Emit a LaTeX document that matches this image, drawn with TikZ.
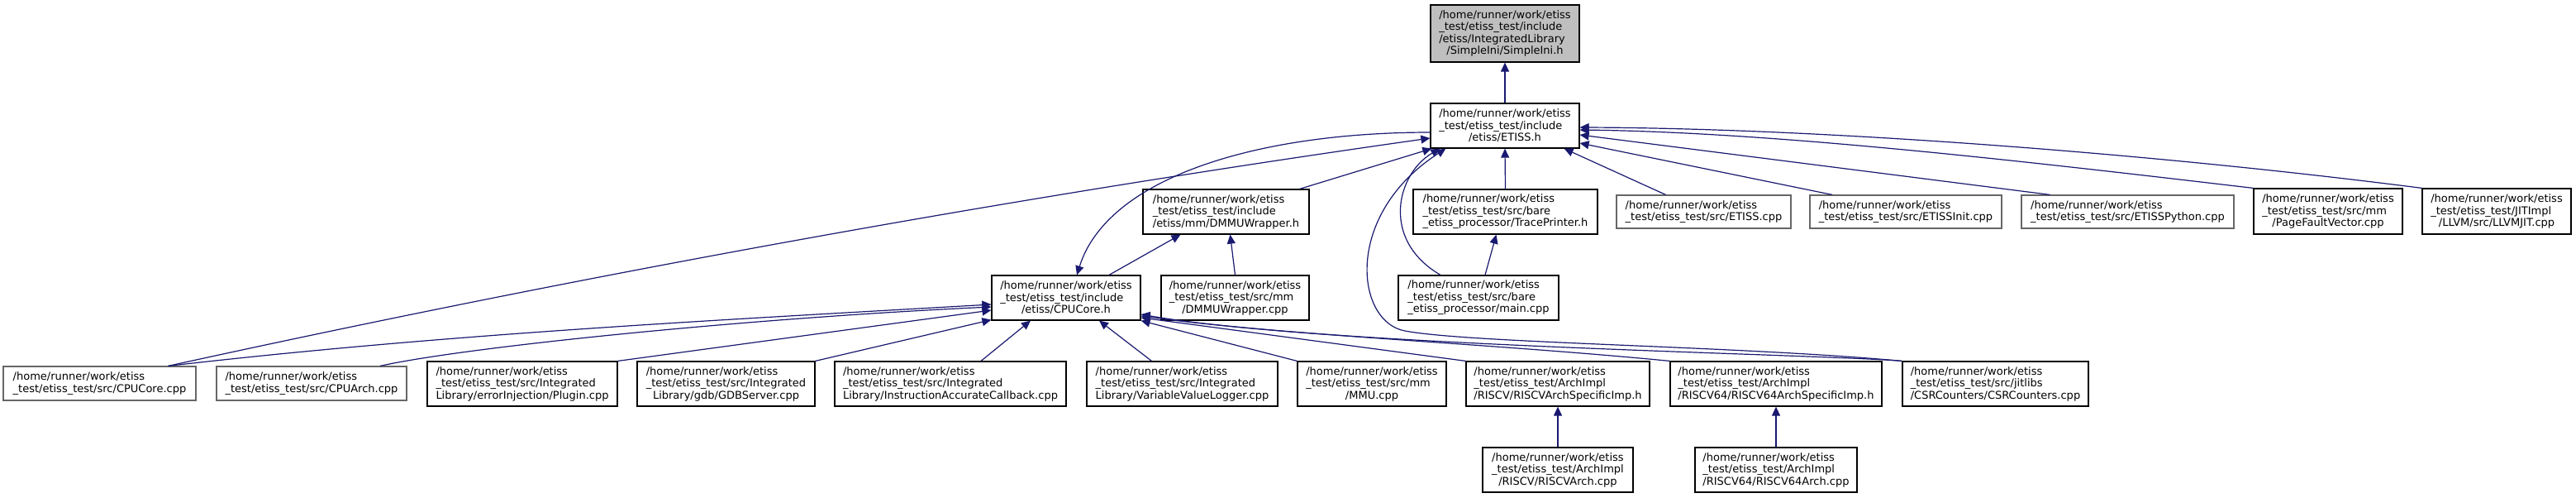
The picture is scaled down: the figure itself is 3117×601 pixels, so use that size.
\documentclass[tikz,border=0pt]{standalone}
\usepackage{fontspec}
\setmainfont{DejaVu Sans}
\usetikzlibrary{calc}
\usetikzlibrary{arrows.meta}

\definecolor{inclblue}{HTML}{191970}
\definecolor{nodocgray}{HTML}{666666}
\definecolor{rootgray}{HTML}{BFBFBF}

% last line of a label is centred on the widest one
\newlength{\lnwd}
\newcommand{\lastline}[2]{\settowidth{\lnwd}{#1}\makebox[\lnwd]{#2}}

\tikzset{
  file/.style={rectangle, draw=black, line width=0.6pt, inner sep=0pt, align=left, fill=white},
  nodoc/.style={file, draw=nodocgray},
  incl/.style={draw=inclblue, line width=0.6pt, -{Triangle[length=5.5pt, width=5pt]}},
}

\begin{document}
\begin{tikzpicture}[x=0.5pt, y=-0.5pt, font=\fontsize{6.5}{7.25}\selectfont]
    \path [use as bounding box, fill=white] (0,0) rectangle (3117,601);

    % top
    \node [file, fill=rootgray, minimum width=90pt, minimum height=34.5pt] (simpleini) at (1821,40.5) {/home/runner/work/etiss\\\_test/etiss\_test/include\\/etiss/IntegratedLibrary\\\lastline{/home/runner/work/etiss}{/SimpleIni/SimpleIni.h}};
    \node [file, minimum width=90pt, minimum height=27pt] (etissh) at (1821,152) {/home/runner/work/etiss\\\_test/etiss\_test/include\\\lastline{/home/runner/work/etiss}{/etiss/ETISS.h}};

    % second row
    \node [file, minimum width=100.5pt, minimum height=27pt] (dmmuh) at (1483.5,256) {/home/runner/work/etiss\\\_test/etiss\_test/include\\/etiss/mm/DMMUWrapper.h};
    \node [file, minimum width=111.5pt, minimum height=27pt] (traceh) at (1821.5,256) {/home/runner/work/etiss\\\_test/etiss\_test/src/bare\\\_etiss\_processor/TracePrinter.h};
    \node [nodoc, minimum width=105.5pt, minimum height=20pt] (etisscpp) at (2061.5,256) {/home/runner/work/etiss\\\_test/etiss\_test/src/ETISS.cpp};
    \node [nodoc, minimum width=116pt, minimum height=20pt] (initcpp) at (2306,256) {/home/runner/work/etiss\\\_test/etiss\_test/src/ETISSInit.cpp};
    \node [nodoc, minimum width=128.5pt, minimum height=20pt] (pycpp) at (2574.5,256) {/home/runner/work/etiss\\\_test/etiss\_test/src/ETISSPython.cpp};
    \node [file, minimum width=90pt, minimum height=27.5pt] (pagecpp) at (2817,255.5) {/home/runner/work/etiss\\\_test/etiss\_test/src/mm\\\lastline{/home/runner/work/etiss}{/PageFaultVector.cpp}};
    \node [file, minimum width=90pt, minimum height=27.5pt] (llvmcpp) at (3021,255.5) {/home/runner/work/etiss\\\_test/etiss\_test/JITImpl\\\lastline{/home/runner/work/etiss}{/LLVM/src/LLVMJIT.cpp}};

    % third row
    \node [file, minimum width=90pt, minimum height=27pt] (cpucoreh) at (1290,360) {/home/runner/work/etiss\\\_test/etiss\_test/include\\\lastline{/home/runner/work/etiss}{/etiss/CPUCore.h}};
    \node [file, minimum width=89.5pt, minimum height=27pt] (dmmucpp) at (1494.5,360) {/home/runner/work/etiss\\\_test/etiss\_test/src/mm\\\lastline{/home/runner/work/etiss}{/DMMUWrapper.cpp}};
    \node [file, minimum width=97pt, minimum height=27pt] (maincpp) at (1789,360) {/home/runner/work/etiss\\\_test/etiss\_test/src/bare\\\_etiss\_processor/main.cpp};

    % fourth row
    \node [nodoc, minimum width=116.5pt, minimum height=20.5pt] (cpucorecpp) at (120.5,463.5) {/home/runner/work/etiss\\\_test/etiss\_test/src/CPUCore.cpp};
    \node [nodoc, minimum width=115pt, minimum height=20.5pt] (cpuarchcpp) at (377,463.5) {/home/runner/work/etiss\\\_test/etiss\_test/src/CPUArch.cpp};
    \node [file, minimum width=115pt, minimum height=27pt] (plugincpp) at (632,464) {/home/runner/work/etiss\\\_test/etiss\_test/src/Integrated\\Library/errorInjection/Plugin.cpp};
    \node [file, minimum width=107.5pt, minimum height=27pt] (gdbcpp) at (878.5,464) {/home/runner/work/etiss\\\_test/etiss\_test/src/Integrated\\\lastline{\_test/etiss\_test/src/Integrated}{Library/gdb/GDBServer.cpp}};
    \node [file, minimum width=140pt, minimum height=27pt] (iacbcpp) at (1150,464) {/home/runner/work/etiss\\\_test/etiss\_test/src/Integrated\\Library/InstructionAccurateCallback.cpp};
    \node [file, minimum width=115.5pt, minimum height=27pt] (vvlcpp) at (1430.5,464) {/home/runner/work/etiss\\\_test/etiss\_test/src/Integrated\\Library/VariableValueLogger.cpp};
    \node [file, minimum width=90pt, minimum height=27pt] (mmucpp) at (1660,464) {/home/runner/work/etiss\\\_test/etiss\_test/src/mm\\\lastline{/home/runner/work/etiss}{/MMU.cpp}};
    \node [file, minimum width=111pt, minimum height=27pt] (riscvh) at (1885,464) {/home/runner/work/etiss\\\_test/etiss\_test/ArchImpl\\/RISCV/RISCVArchSpecificImp.h};
    \node [file, minimum width=128pt, minimum height=27pt] (riscv64h) at (2149,464) {/home/runner/work/etiss\\\_test/etiss\_test/ArchImpl\\/RISCV64/RISCV64ArchSpecificImp.h};
    \node [file, minimum width=112.5pt, minimum height=27pt] (csrcpp) at (2414.5,464) {/home/runner/work/etiss\\\_test/etiss\_test/src/jitlibs\\/CSRCounters/CSRCounters.cpp};

    % bottom
    \node [file, minimum width=91pt, minimum height=27pt] (riscvcpp) at (1885,568) {/home/runner/work/etiss\\\_test/etiss\_test/ArchImpl\\\lastline{/home/runner/work/etiss}{/RISCV/RISCVArch.cpp}};
    \node [file, minimum width=98pt, minimum height=27pt] (riscv64cpp) at (2149,568) {/home/runner/work/etiss\\\_test/etiss\_test/ArchImpl\\/RISCV64/RISCV64Arch.cpp};

    % includes of ETISS.h
    \draw [incl] (etissh.north) -- (simpleini.south);
    \draw [incl] (traceh.north) -- (etissh.south);
    \draw [incl] ($(etisscpp.north)+(-46,0)$) -- ($(etissh.south east)+(-19,0)$);
    \draw [incl] ($(initcpp.north)+(-89,0)$) -- ($(etissh.east)+(0,21)$);
    \draw [incl] ($(pycpp.north)+(-94,0)$) -- ($(etissh.east)+(0,11)$);
    \draw [incl] (pagecpp.north west) .. controls (2450,195) and (2150,160) .. ($(etissh.east)+(0,5)$);
    \draw [incl] (llvmcpp.north west) .. controls (2600,185) and (2200,155) .. ($(etissh.east)+(0,2)$);
    \draw [incl] ($(dmmuh.north east)+(-12,0)$) -- ($(etissh.south west)+(2,0)$);
    \draw [incl] ($(cpucorecpp.north)+(83,0)$) .. controls (712,331) and (1222,239) .. ($(etissh.west)+(0,15)$);
    \draw [incl] ($(maincpp.north)+(-46,0)$) .. controls (1670,290) and (1690,210) .. ($(etissh.south west)+(12,0)$);
    \draw [incl] (csrcpp.north west) .. controls (2100,418) and (1780,415) .. (1700,400) .. controls (1640,389) and (1625,260) .. ($(etissh.south west)+(19,0)$);

    % includes of CPUCore.h
    \draw [incl] ($(etissh.west)+(0,8)$) .. controls (1520,160) and (1340,215) .. ($(cpucoreh.north)+(13,0)$);
    \draw [incl] ($(cpucorecpp.north)+(83,0)$) .. controls (535,404) and (867,387) .. ($(cpucoreh.west)+(0,8)$);
    \draw [incl] ($(cpuarchcpp.north)+(83,0)$) .. controls (560,420) and (900,385) .. ($(cpucoreh.west)+(0,11)$);
    \draw [incl] (plugincpp.north east) -- ($(cpucoreh.west)+(0,15)$);
    \draw [incl] (gdbcpp.north east) -- ($(cpucoreh.south west)+(0,-1)$);
    \draw [incl] ($(iacbcpp.north)+(37,0)$) -- ($(cpucoreh.south)+(-43,0)$);
    \draw [incl] ($(vvlcpp.north)+(-37,0)$) -- ($(cpucoreh.south)+(40,0)$);
    \draw [incl] (mmucpp.north west) -- (cpucoreh.south east);
    \draw [incl] (riscvh.north west) -- ($(cpucoreh.east)+(0,24)$);
    \draw [incl] (riscv64h.north west) .. controls (1800,415) and (1550,405) .. ($(cpucoreh.east)+(0,22)$);
    \draw [incl] (csrcpp.north west) .. controls (2200,428) and (1600,418) .. ($(cpucoreh.east)+(0,20)$);

    % the rest
    \draw [incl] ($(cpucoreh.north)+(52,0)$) -- ($(dmmuh.south)+(-55,0)$);
    \draw [incl] (dmmucpp.north) -- ($(dmmuh.south)+(5,0)$);
    \draw [incl] ($(maincpp.north)+(8,0)$) -- ($(traceh.south)+(-11,0)$);
    \draw [incl] (riscvcpp.north) -- (riscvh.south);
    \draw [incl] (riscv64cpp.north) -- (riscv64h.south);
\end{tikzpicture}
\end{document}
